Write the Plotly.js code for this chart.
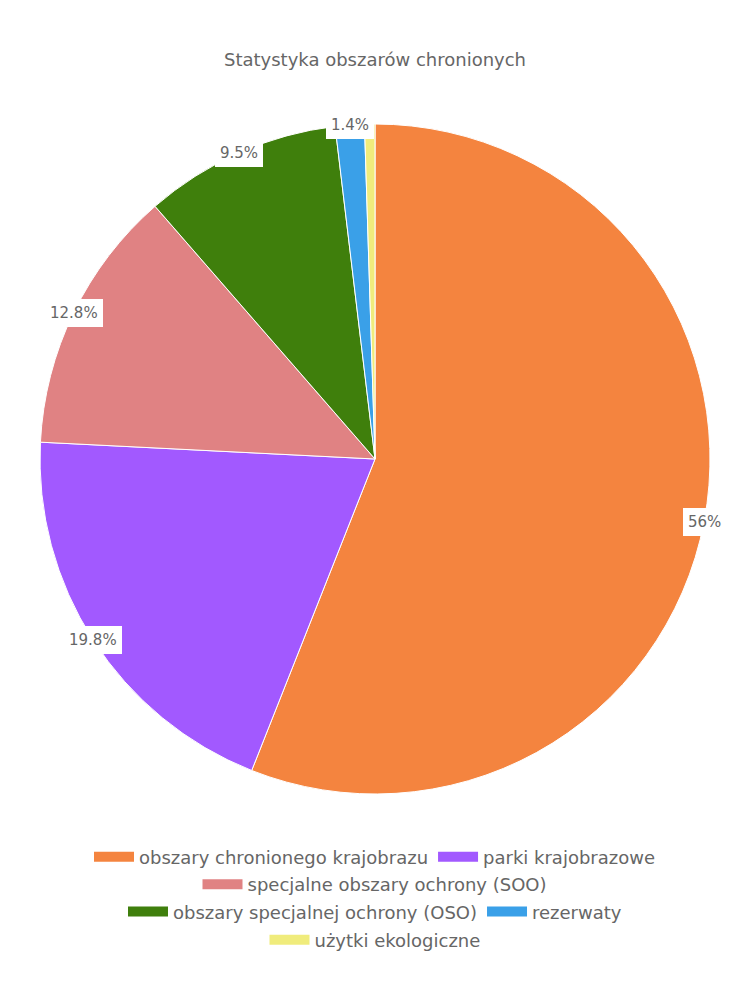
<!DOCTYPE html>
<html>
<head>
<meta charset="utf-8">
<script src="https://cdn.plot.ly/plotly-3.0.1.min.js"></script>
<style>html,body{margin:0;padding:0;background:#fff;}#chart{width:750px;height:1000px;}</style>
</head>
<body>
<div id="chart"></div>
<script>
const categories = [
  "obszary chronionego krajobrazu",
  "parki krajobrazowe",
  "specjalne obszary ochrony (SOO)",
  "obszary specjalnej ochrony (OSO)",
  "rezerwaty",
  "użytki ekologiczne"
];
const values = [56, 19.8, 12.8, 9.5, 1.4, 0.5];
const colors = ["#F4843F", "#A259FF", "#E08283", "#3F7F0C", "#3AA0E8", "#F0EC7C"];
const legendRows = [0, 0, 1, 2, 2, 3];
const chartTitle = "Statystyka obszarów chronionych";
const FONT = "'DejaVu Sans', sans-serif";

const total = values.reduce((a, b) => a + b, 0);
const annotations = [];
let cum = 0;
values.forEach((v, i) => {
  const mid = (cum + v / 2) / total * 2 * Math.PI;
  cum += v;
  if (v / total < 0.01) return;
  const pct = Math.round(v / total * 1000) / 10;
  annotations.push({
    xref: "paper", yref: "paper",
    x: 0.5 + 0.5 * Math.sin(mid),
    y: 0.5 + 0.5 * Math.cos(mid),
    text: pct + "%",
    showarrow: false,
    bgcolor: "#ffffff",
    bordercolor: "#ffffff",
    borderpad: 4,
    font: {family: FONT, size: 15, color: "#666666"},
    xanchor: "center", yanchor: "middle"
  });
});

const data = [{
  type: "pie",
  labels: categories,
  values: values,
  sort: false,
  direction: "clockwise",
  rotation: 0,
  textinfo: "none",
  hoverinfo: "label+percent",
  showlegend: false,
  marker: {colors: colors, line: {color: "#ffffff", width: 1}},
  domain: {x: [0, 1], y: [0, 1]}
}];

const legendNames = ["legend", "legend2", "legend3", "legend4"];
categories.forEach((c, i) => {
  data.push({
    type: "scatter", mode: "lines",
    x: [null], y: [null],
    name: c,
    line: {color: colors[i], width: 16},
    legend: legendNames[legendRows[i]],
    showlegend: true,
    hoverinfo: "skip"
  });
});

const rowY = [-0.094, -0.135, -0.176, -0.218];
const layout = {
  width: 750, height: 1000,
  margin: {l: 40, r: 40, t: 124, b: 206},
  paper_bgcolor: "#ffffff",
  plot_bgcolor: "#ffffff",
  xaxis: {visible: false},
  yaxis: {visible: false},
  title: {text: chartTitle, x: 0.5, xanchor: "center", y: 0.94, yanchor: "middle",
          font: {family: FONT, size: 18, color: "#666666"}},
  showlegend: true,
  annotations: annotations
};
legendNames.forEach((ln, r) => {
  layout[ln] = {
    orientation: "h", x: 0.5, xanchor: "center", y: rowY[r], yanchor: "middle",
    font: {family: FONT, size: 18, color: "#666666"},
    traceorder: "normal", itemwidth: 40, bgcolor: "rgba(0,0,0,0)"
  };
});

Plotly.newPlot("chart", data, layout, {displayModeBar: false, staticPlot: true});
</script>
</body>
</html>
